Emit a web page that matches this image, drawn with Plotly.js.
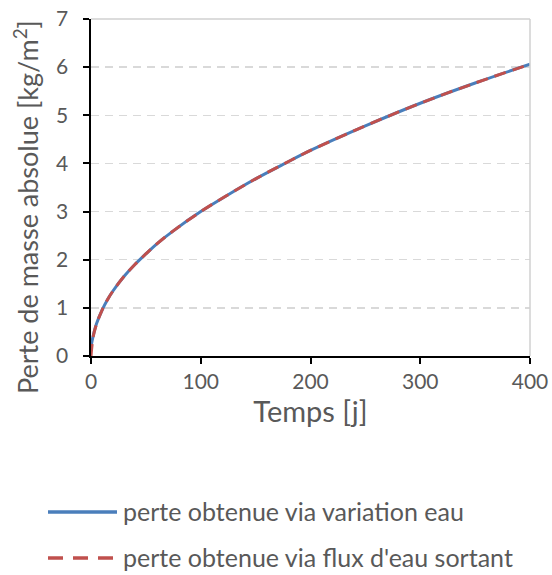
<!DOCTYPE html>
<html><head><meta charset="utf-8">
<script src="https://cdn.plot.ly/plotly-3.0.1.min.js"></script>
<style>body{margin:0;background:#fff}#chart{width:552px;height:575px}</style>
</head><body><div id="chart"></div>
<script>
const tempsEau = [0, 2, 5, 10, 15, 20, 30, 40, 50, 60, 75, 100, 125, 150, 175, 200, 250, 300, 350, 400];
const perteEau = [0.2, 0.42, 0.67, 0.95, 1.17, 1.35, 1.65, 1.9, 2.12, 2.33, 2.6, 3.0, 3.35, 3.68, 3.98, 4.27, 4.78, 5.25, 5.67, 6.06];
const tempsFlux = [0, 2, 5, 10, 15, 20, 30, 40, 50, 60, 75, 100, 125, 150, 175, 200, 250, 300, 350, 400];
const perteFlux = [0, 0.4, 0.66, 0.95, 1.17, 1.35, 1.65, 1.9, 2.12, 2.33, 2.6, 3.0, 3.35, 3.68, 3.98, 4.27, 4.78, 5.25, 5.67, 6.06];
const nomEau = 'perte obtenue via variation eau';
const nomFlux = "perte obtenue via flux d'eau sortant";
const titreX = 'Temps [j]';
const titreY = 'Perte de masse absolue [kg/m<sup>2</sup>]';

const font = 'Lato, "Open Sans", sans-serif';
const grey = '#595959';
const blue = '#4a7ebb', red = '#c0504d';
const data = [
  {x: tempsEau, y: perteEau, name: nomEau, mode: 'lines', line: {color: blue, width: 3, shape: 'spline'}},
  {x: tempsFlux, y: perteFlux, name: nomFlux, mode: 'lines', line: {color: red, width: 3, dash: '12px,7px', shape: 'spline'}}
];
// legend drawn by hand (Excel style: long sample lines, large spacing)
const L = 91, W = 439, T = 19, H = 337;
const px = v => (v - L) / W, py = v => (T + H - v) / H;
const layout = {
  width: 552, height: 575,
  margin: {l: L, r: 552 - L - W, t: T, b: 575 - T - H},
  paper_bgcolor: '#fff', plot_bgcolor: '#fff',
  font: {family: font, color: grey, size: 21},
  showlegend: false,
  xaxis: {range: [0, 400], dtick: 100, showgrid: false, zeroline: false,
          showline: true, linecolor: '#000', linewidth: 2,
          ticks: 'outside', ticklen: 6, tickwidth: 2, tickcolor: '#000',
          tickfont: {family: font, size: 21, color: grey},
          title: {text: titreX, font: {family: font, size: 29, color: grey}, standoff: 5}},
  yaxis: {range: [0, 7], dtick: 1, showgrid: true, gridcolor: '#d9d9d9', gridwidth: 1.5, griddash: '8px,6px',
          zeroline: false, showline: true, linecolor: '#000', linewidth: 2,
          ticks: 'outside', ticklen: 6, tickwidth: 2, tickcolor: '#000', ticksuffix: '\u2002',
          tickfont: {family: font, size: 21, color: grey}},
  shapes: [
    {type: 'line', xref: 'paper', yref: 'paper', x0: 1, x1: 1, y0: 0, y1: 1, line: {color: '#d0d0d0', width: 1.5}},
    {type: 'line', xref: 'paper', yref: 'paper', x0: 0, x1: 1, y0: 1, y1: 1, line: {color: '#d0d0d0', width: 1.5}},
    {type: 'line', xref: 'paper', yref: 'paper', x0: px(48), x1: px(117), y0: py(512), y1: py(512), line: {color: blue, width: 3.5}},
    {type: 'line', xref: 'paper', yref: 'paper', x0: px(48), x1: px(117), y0: py(558), y1: py(558), line: {color: red, width: 3.5, dash: '15px,10px'}}
  ],
  annotations: [
    {xref: 'paper', yref: 'paper', x: px(26), y: py(207), xanchor: 'center', yanchor: 'middle', showarrow: false,
     textangle: -90, text: titreY, font: {family: font, size: 27, color: grey}},
    {xref: 'paper', yref: 'paper', x: px(121), y: py(511), xanchor: 'left', yanchor: 'middle', showarrow: false,
     text: nomEau, font: {family: font, size: 25, color: grey}},
    {xref: 'paper', yref: 'paper', x: px(121), y: py(557), xanchor: 'left', yanchor: 'middle', showarrow: false,
     text: nomFlux, font: {family: font, size: 25, color: grey}}
  ]
};
Plotly.newPlot('chart', data, layout, {displayModeBar: false, staticPlot: true});
</script></body></html>
